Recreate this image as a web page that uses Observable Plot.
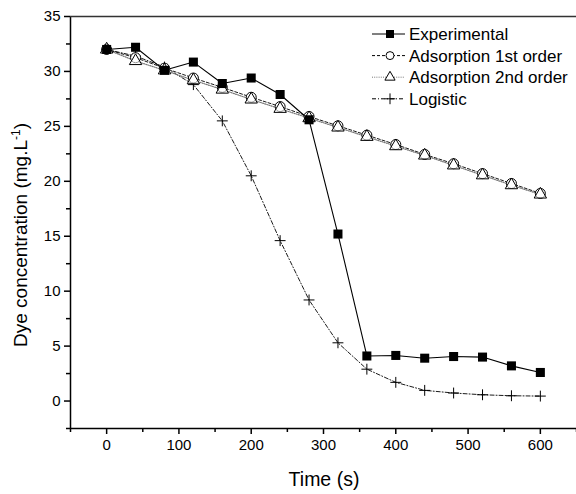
<!DOCTYPE html>
<html>
<head>
<meta charset="utf-8">
<script src="https://cdn.jsdelivr.net/npm/d3@7"></script>
<script src="https://cdn.jsdelivr.net/npm/@observablehq/plot@0.6"></script>
<style>
  html, body { margin: 0; padding: 0; background: white; }
  #chart { width: 576px; height: 494px; }
</style>
</head>
<body>
<div id="chart"></div>
<script>
const times = [0, 40, 80, 120, 160, 200, 240, 280, 320, 360, 400, 440, 480, 520, 560, 600];
const experimental = [32.0, 32.2, 30.1, 30.85, 28.9, 29.4, 27.9, 25.6, 15.2, 4.1, 4.15, 3.9, 4.05, 4.0, 3.2, 2.6];
const firstOrder = [32.0, 31.25, 30.3, 29.4, 28.55, 27.65, 26.8, 25.9, 25.05, 24.2, 23.35, 22.45, 21.6, 20.7, 19.8, 18.9];
const secondOrder = [32.0, 30.95, 30.1, 29.2, 28.35, 27.45, 26.6, 25.75, 24.9, 24.05, 23.2, 22.35, 21.45, 20.55, 19.65, 18.8];
const logistic = [32.0, 31.4, 30.4, 28.8, 25.5, 20.5, 14.6, 9.2, 5.3, 2.9, 1.7, 0.97, 0.73, 0.57, 0.48, 0.45];
const seriesNames = ["Experimental", "Adsorption 1st order", "Adsorption 2nd order", "Logistic"];
const xTicks = [0, 100, 200, 300, 400, 500, 600];
const xMinor = [-50, 50, 150, 250, 350, 450, 550, 650];
const yTicks = [0, 5, 10, 15, 20, 25, 30, 35];
const yMinor = [-2.5, 2.5, 7.5, 12.5, 17.5, 22.5, 27.5, 32.5];
const xLabel = "Time (s)";
const yLabel = "Dye concentration (mg.L";

const mk = arr => times.map((t, i) => ({t, v: arr[i]}));
const exp = mk(experimental), f1 = mk(firstOrder), f2 = mk(secondOrder), lg = mk(logistic);

const chart = Plot.plot({
  width: 576, height: 494,
  marginLeft: 70, marginRight: 0, marginTop: 16, marginBottom: 66,
  style: {fontFamily: "'Liberation Sans', Arial, sans-serif", fontSize: "15px", background: "white", color: "black"},
  x: {domain: [-50, 650]},
  y: {domain: [-2.5, 35]},
  marks: [
    Plot.axisX(xTicks, {tickSize: 6, tickPadding: 5, label: null, fontSize: 15, strokeWidth: 1.5}),
    Plot.axisX(xMinor, {tickSize: 4, tickFormat: () => "", label: null, strokeWidth: 1.5}),
    Plot.axisY(yTicks, {tickSize: 6, tickPadding: 4, label: null, fontSize: 15, strokeWidth: 1.5}),
    Plot.axisY(yMinor, {tickSize: 4, tickFormat: () => "", label: null, strokeWidth: 1.5}),
    Plot.ruleX([-50], {stroke: "black", strokeWidth: 1.5}),
    Plot.ruleY([-2.5], {stroke: "black", strokeWidth: 1.5}),
    Plot.ruleY([35], {stroke: "#333", strokeWidth: 1.5}),
    Plot.line(lg, {x: "t", y: "v", stroke: "black", strokeWidth: 0.9, strokeDasharray: "4,2,1,2"}),
    Plot.line(f2, {x: "t", y: "v", stroke: "#777", strokeWidth: 1.2, strokeDasharray: "1,1.2"}),
    Plot.line(f1, {x: "t", y: "v", stroke: "black", strokeWidth: 0.9, strokeDasharray: "3,2"}),
    Plot.line(exp, {x: "t", y: "v", stroke: "black", strokeWidth: 1.1}),
    Plot.dot(lg, {x: "t", y: "v", symbol: "plus", r: 3.6, stroke: "black", strokeWidth: 1}),
    Plot.dot(f1, {x: "t", y: "v", symbol: "circle", r: 5, stroke: "black", fill: "white", strokeWidth: 1}),
    Plot.dot(f2, {x: "t", y: "v", symbol: "triangle", r: 4.6, stroke: "black", fill: "white", fillOpacity: 0.6, strokeWidth: 1}),
    Plot.dot(exp, {x: "t", y: "v", symbol: "square", r: 5.1, fill: "black", stroke: "none"})
  ]
});
document.getElementById("chart").appendChild(chart);

const svg = d3.select(chart);
const font = "'Liberation Sans', Arial, sans-serif";
// axis titles
svg.append("text").attr("x", 324).attr("y", 486).attr("text-anchor", "middle")
  .attr("font-family", font).attr("font-size", 19.5).attr("fill", "black").text(xLabel);
const yt = svg.append("text").attr("transform", "translate(27,235) rotate(-90)").attr("text-anchor", "middle")
  .attr("font-family", font).attr("font-size", 19).attr("fill", "black");
yt.append("tspan").text(yLabel);
yt.append("tspan").attr("dy", -7).attr("font-size", 12).text("-1");
yt.append("tspan").attr("dy", 7).text(")");

// legend
const sym = {
  square: d3.symbol(d3.symbolSquare, 64),
  circle: d3.symbol(d3.symbolCircle, 50),
  triangle: d3.symbol(d3.symbolTriangle, 45),
  plus: d3.symbol(d3.symbolPlus, 40)
};
const legendItems = [
  {name: seriesNames[0], dash: null, stroke: "black", s: "square", fill: "black", sstroke: "none"},
  {name: seriesNames[1], dash: "3,2", stroke: "black", s: "circle", fill: "white", sstroke: "black"},
  {name: seriesNames[2], dash: "1,1.2", stroke: "#777", s: "triangle", fill: "white", sstroke: "black"},
  {name: seriesNames[3], dash: "4,2,1,2", stroke: "black", s: "plus", fill: "none", sstroke: "black"}
];
const lg0 = svg.append("g");
legendItems.forEach((d, i) => {
  const y = 34 + i * 21.6;
  lg0.append("line").attr("x1", 372).attr("x2", 405).attr("y1", y).attr("y2", y)
    .attr("stroke", d.stroke).attr("stroke-width", 1).attr("stroke-dasharray", d.dash);
  lg0.append("path").attr("d", sym[d.s]()).attr("transform", `translate(390,${y})`)
    .attr("fill", d.fill).attr("stroke", d.sstroke).attr("stroke-width", 1);
  lg0.append("text").attr("x", 409).attr("y", y + 6).attr("text-anchor", "start")
    .attr("font-family", font).attr("font-size", 17)
    .attr("fill", "black").text(d.name);
});
</script>
</body>
</html>
